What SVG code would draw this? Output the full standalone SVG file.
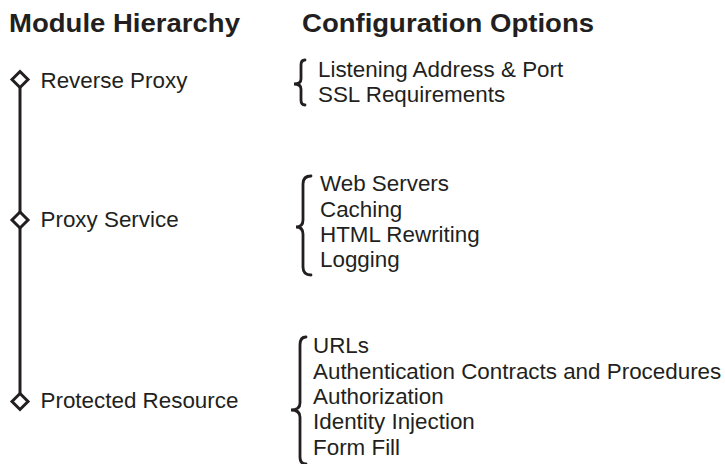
<svg xmlns="http://www.w3.org/2000/svg" width="725" height="464" viewBox="0 0 725 464">
<style>
.title{font-family:"Liberation Sans",Arial,sans-serif;font-weight:bold;font-size:26px;fill:#231f20}
.lbl{font-family:"Liberation Sans",Arial,sans-serif;font-size:22.4px;fill:#231f20}
.dia{fill:#fff;stroke:#231f20;stroke-width:3}
.brace{fill:none;stroke:#231f20;stroke-width:2.8;stroke-linecap:round}
.conn{stroke:#231f20;stroke-width:3;fill:none}
</style>
<rect width="725" height="464" fill="#fff"/>
<text class="title" x="9" y="31.5" textLength="231" lengthAdjust="spacingAndGlyphs">Module Hierarchy</text>
<text class="title" x="302" y="31.5" textLength="292" lengthAdjust="spacingAndGlyphs">Configuration Options</text>
<g id="connectors">
<line class="conn" x1="20" y1="87" x2="20" y2="212"/>
<line class="conn" x1="20" y1="228" x2="20" y2="394"/>
</g>
<g id="reverse-proxy">
<path class="dia" d="M20,71.5 L28,79.5 L20,87.5 L12,79.5 Z"/>
<text class="lbl" x="40.5" y="88.3">Reverse Proxy</text>
</g>
<g id="proxy-service">
<path class="dia" d="M20,212 L28,220 L20,228 L12,220 Z"/>
<text class="lbl" x="40.5" y="226.5">Proxy Service</text>
</g>
<g id="protected-resource">
<path class="dia" d="M20,393.5 L28,401.5 L20,409.5 L12,401.5 Z"/>
<text class="lbl" x="40.5" y="407.5">Protected Resource</text>
</g>
<g id="reverse-proxy-options">
<path class="brace" d="M305,60 Q301,60 301,65 L301,79 Q301,84 294,84 Q301,84 301,89 L301,100 Q301,105 305,105"/>
<text class="lbl" x="318" y="76.7">Listening Address &amp; Port</text>
<text class="lbl" x="318" y="102">SSL Requirements</text>
</g>
<g id="proxy-service-options">
<path class="brace" d="M311,176 Q303,176 303,184 L303,220 Q303,227 296,227 Q303,227 303,234 L303,267 Q303,275 311,275"/>
<text class="lbl" x="320" y="191">Web Servers</text>
<text class="lbl" x="320" y="216.5">Caching</text>
<text class="lbl" x="320" y="242">HTML Rewriting</text>
<text class="lbl" x="320" y="267">Logging</text>
</g>
<g id="protected-resource-options">
<path class="brace" d="M306,337 Q300,337 300,345 L300,403 Q300,410 291,410 Q300,410 300,417 L300,457 Q300,464 306,464"/>
<text class="lbl" x="313" y="353.3">URLs</text>
<text class="lbl" x="313" y="379">Authentication Contracts and Procedures</text>
<text class="lbl" x="313" y="404">Authorization</text>
<text class="lbl" x="313" y="429.3">Identity Injection</text>
<text class="lbl" x="313" y="454.5">Form Fill</text>
</g>
</svg>
